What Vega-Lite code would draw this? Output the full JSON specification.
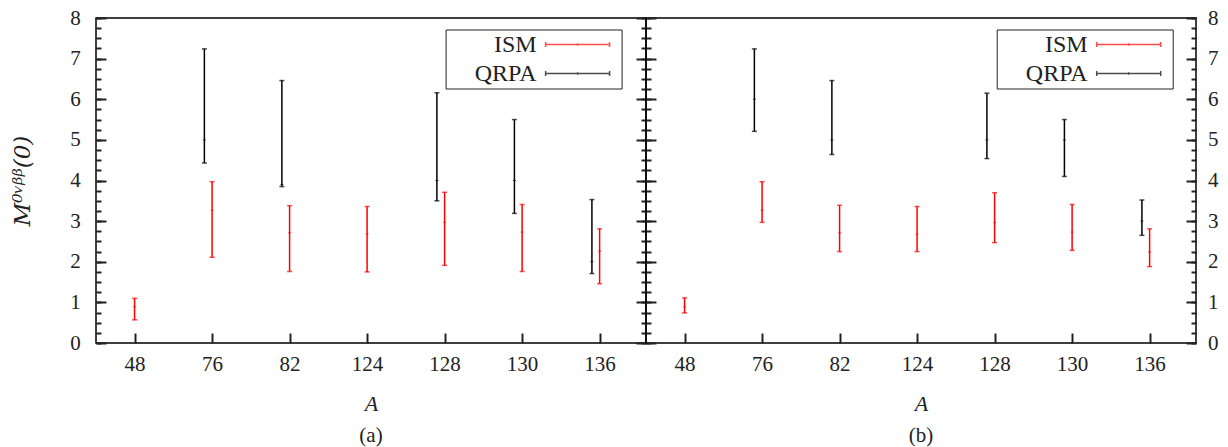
{
  "$schema": "https://vega.github.io/schema/vega-lite/v6.json",
  "background": "white",
  "padding": {"left": 11, "top": 6, "right": 0, "bottom": 0},
  "bounds": "flush",
  "datasets": {
    "a": [
      {"A": "48", "model": "ISM", "val": 0.89, "lo": 0.57, "hi": 1.10},
      {"A": "76", "model": "ISM", "val": 3.27, "lo": 2.11, "hi": 3.97},
      {"A": "82", "model": "ISM", "val": 2.71, "lo": 1.76, "hi": 3.38},
      {"A": "124", "model": "ISM", "val": 2.69, "lo": 1.75, "hi": 3.36},
      {"A": "128", "model": "ISM", "val": 2.97, "lo": 1.91, "hi": 3.71},
      {"A": "130", "model": "ISM", "val": 2.73, "lo": 1.76, "hi": 3.41},
      {"A": "136", "model": "ISM", "val": 2.26, "lo": 1.46, "hi": 2.81},
      {"A": "76", "model": "QRPA", "val": 5.0, "lo": 4.43, "hi": 7.24},
      {"A": "82", "model": "QRPA", "val": 3.9, "lo": 3.85, "hi": 6.46},
      {"A": "128", "model": "QRPA", "val": 4.0, "lo": 3.50, "hi": 6.16},
      {"A": "130", "model": "QRPA", "val": 4.0, "lo": 3.19, "hi": 5.50},
      {"A": "136", "model": "QRPA", "val": 2.0, "lo": 1.71, "hi": 3.53}
    ],
    "b": [
      {"A": "48", "model": "ISM", "val": 0.89, "lo": 0.74, "hi": 1.11},
      {"A": "76", "model": "ISM", "val": 3.27, "lo": 2.97, "hi": 3.97},
      {"A": "82", "model": "ISM", "val": 2.71, "lo": 2.25, "hi": 3.39},
      {"A": "124", "model": "ISM", "val": 2.68, "lo": 2.25, "hi": 3.36},
      {"A": "128", "model": "ISM", "val": 2.96, "lo": 2.47, "hi": 3.70},
      {"A": "130", "model": "ISM", "val": 2.73, "lo": 2.28, "hi": 3.41},
      {"A": "136", "model": "ISM", "val": 2.24, "lo": 1.88, "hi": 2.81},
      {"A": "76", "model": "QRPA", "val": 6.0, "lo": 5.21, "hi": 7.24},
      {"A": "82", "model": "QRPA", "val": 5.0, "lo": 4.64, "hi": 6.46},
      {"A": "128", "model": "QRPA", "val": 5.0, "lo": 4.54, "hi": 6.15},
      {"A": "130", "model": "QRPA", "val": 5.0, "lo": 4.10, "hi": 5.50},
      {"A": "136", "model": "QRPA", "val": 3.0, "lo": 2.65, "hi": 3.52}
    ]
  },
  "hconcat": [
    {
      "width": 550,
      "height": 325,
      "data": {"name": "a"},
      "title": {"text": "(a)", "orient": "bottom", "anchor": "middle", "fontSize": 21, "font": "Liberation Serif", "fontWeight": "normal", "color": "#222", "offset": 11},
      "encoding": {
        "x": {"field": "A", "type": "ordinal", "scale": {"type": "point", "domain": ["48", "76", "82", "124", "128", "130", "136"], "padding": 0.548, "align": 0.454},
          "axis": {"title": "A", "titleFontStyle": "italic", "titleFontSize": 22, "titlePadding": 19, "offset": -10, "tickSize": 10, "tickColor": "#222", "tickWidth": 2, "labelPadding": 10, "labelAngle": 0}},
        "color": {"field": "model", "type": "nominal", "scale": {"domain": ["ISM", "QRPA"], "range": ["#ff0000", "#000000"]},
          "legend": {"title": null, "orient": "none", "legendX": 349.6, "legendY": 11.5, "symbolType": "M0,0H12.8M0,-0.5V0.5M12.8,-0.5V0.5M6.4,-0.25V0.25M13.93,0", "symbolSize": 100, "symbolStrokeWidth": 1.5, "symbolOffset": 85, "labelOffset": -21, "labelAlign": "right", "labelFontSize": 24, "labelFont": "Liberation Serif", "labelColor": "#222", "strokeColor": "#222", "fillColor": "white", "padding": 3, "rowPadding": 5}}
      },
      "layer": [
        {
          "mark": {"type": "rule", "strokeWidth": 1.5, "xOffset": {"expr": "datum.model === 'QRPA' ? -7.7 : 0"}},
          "encoding": {
            "y": {"field": "lo", "type": "quantitative", "scale": {"domain": [0, 8], "nice": false},
              "axis": {"orient": "left", "values": [0, 1, 2, 3, 4, 5, 6, 7, 8], "format": "d", "offset": -10, "tickSize": 10, "tickColor": "#222", "tickWidth": 2,
                "labelPadding": 15.7, "title": "M⁰ᵛᵝᵝ(0)", "titleFont": "DejaVu Serif", "titleFontSize": 23, "titleFontStyle": "italic", "titlePadding": 35}},
            "y2": {"field": "hi"}
          }
        },
        {
          "mark": {"type": "tick", "thickness": 1.5, "size": 5, "xOffset": {"expr": "datum.model === 'QRPA' ? -7.7 : 0"}},
          "encoding": {
            "y": {"field": "lo", "type": "quantitative", "scale": {"domain": [0, 8], "nice": false},
              "axis": {"orient": "right", "values": [0, 1, 2, 3, 4, 5, 6, 7, 8], "labels": false, "offset": -10, "tickSize": 10, "tickColor": "#222", "tickWidth": 2, "title": null}}
          }
        },
        {
          "mark": {"type": "tick", "thickness": 1.5, "size": 5, "xOffset": {"expr": "datum.model === 'QRPA' ? -7.7 : 0"}},
          "encoding": {
            "y": {"field": "hi", "type": "quantitative", "scale": {"domain": [0, 8], "nice": false},
              "axis": {"orient": "left", "values": [0,0.25,0.5,0.75,1,1.25,1.5,1.75,2,2.25,2.5,2.75,3,3.25,3.5,3.75,4,4.25,4.5,4.75,5,5.25,5.5,5.75,6,6.25,6.5,6.75,7,7.25,7.5,7.75,8], "labels": false, "offset": -5, "tickSize": 5, "tickColor": "#222", "tickWidth": 2, "title": null}}
          }
        },
        {
          "mark": {"type": "tick", "thickness": 1, "size": 3, "xOffset": {"expr": "datum.model === 'QRPA' ? -7.7 : 0"}},
          "encoding": {
            "y": {"field": "val", "type": "quantitative", "scale": {"domain": [0, 8], "nice": false},
              "axis": {"orient": "right", "values": [0,0.25,0.5,0.75,1,1.25,1.5,1.75,2,2.25,2.5,2.75,3,3.25,3.5,3.75,4,4.25,4.5,4.75,5,5.25,5.5,5.75,6,6.25,6.5,6.75,7,7.25,7.5,7.75,8], "labels": false, "offset": -5, "tickSize": 5, "tickColor": "#222", "tickWidth": 2, "title": null}}
          }
        }
      ],
      "resolve": {"scale": {"y": "independent"}, "axis": {"y": "independent"}}
    },
    {
      "width": 550,
      "height": 325,
      "data": {"name": "b"},
      "title": {"text": "(b)", "orient": "bottom", "anchor": "middle", "fontSize": 21, "font": "Liberation Serif", "fontWeight": "normal", "color": "#222", "offset": 11},
      "encoding": {
        "x": {"field": "A", "type": "ordinal", "scale": {"type": "point", "domain": ["48", "76", "82", "124", "128", "130", "136"], "padding": 0.548, "align": 0.454},
          "axis": {"title": "A", "titleFontStyle": "italic", "titleFontSize": 22, "titlePadding": 19, "offset": -10, "tickSize": 10, "tickColor": "#222", "tickWidth": 2, "labelPadding": 10, "labelAngle": 0}},
        "color": {"field": "model", "type": "nominal", "scale": {"domain": ["ISM", "QRPA"], "range": ["#ff0000", "#000000"]},
          "legend": {"title": null, "orient": "none", "legendX": 350.7, "legendY": 11.5, "symbolType": "M0,0H12.8M0,-0.5V0.5M12.8,-0.5V0.5M6.4,-0.25V0.25M13.93,0", "symbolSize": 100, "symbolStrokeWidth": 1.5, "symbolOffset": 85, "labelOffset": -21, "labelAlign": "right", "labelFontSize": 24, "labelFont": "Liberation Serif", "labelColor": "#222", "strokeColor": "#222", "fillColor": "white", "padding": 3, "rowPadding": 5}}
      },
      "layer": [
        {
          "mark": {"type": "rule", "strokeWidth": 1.5, "xOffset": {"expr": "datum.model === 'QRPA' ? -7.7 : 0"}},
          "encoding": {
            "y": {"field": "lo", "type": "quantitative", "scale": {"domain": [0, 8], "nice": false},
              "axis": {"orient": "left", "values": [0, 1, 2, 3, 4, 5, 6, 7, 8], "labels": false, "offset": -10, "tickSize": 10, "tickColor": "#222", "tickWidth": 2, "title": null}},
            "y2": {"field": "hi"}
          }
        },
        {
          "mark": {"type": "tick", "thickness": 1.5, "size": 5, "xOffset": {"expr": "datum.model === 'QRPA' ? -7.7 : 0"}},
          "encoding": {
            "y": {"field": "lo", "type": "quantitative", "scale": {"domain": [0, 8], "nice": false},
              "axis": {"orient": "right", "values": [0, 1, 2, 3, 4, 5, 6, 7, 8], "format": "d", "offset": -10, "tickSize": 10, "tickColor": "#222", "tickWidth": 2, "labelPadding": 11.5, "title": null}}
          }
        },
        {
          "mark": {"type": "tick", "thickness": 1.5, "size": 5, "xOffset": {"expr": "datum.model === 'QRPA' ? -7.7 : 0"}},
          "encoding": {
            "y": {"field": "hi", "type": "quantitative", "scale": {"domain": [0, 8], "nice": false},
              "axis": {"orient": "left", "values": [0,0.25,0.5,0.75,1,1.25,1.5,1.75,2,2.25,2.5,2.75,3,3.25,3.5,3.75,4,4.25,4.5,4.75,5,5.25,5.5,5.75,6,6.25,6.5,6.75,7,7.25,7.5,7.75,8], "labels": false, "offset": -5, "tickSize": 5, "tickColor": "#222", "tickWidth": 2, "title": null}}
          }
        },
        {
          "mark": {"type": "tick", "thickness": 1, "size": 3, "xOffset": {"expr": "datum.model === 'QRPA' ? -7.7 : 0"}},
          "encoding": {
            "y": {"field": "val", "type": "quantitative", "scale": {"domain": [0, 8], "nice": false},
              "axis": {"orient": "right", "values": [0,0.25,0.5,0.75,1,1.25,1.5,1.75,2,2.25,2.5,2.75,3,3.25,3.5,3.75,4,4.25,4.5,4.75,5,5.25,5.5,5.75,6,6.25,6.5,6.75,7,7.25,7.5,7.75,8], "labels": false, "offset": -5, "tickSize": 5, "tickColor": "#222", "tickWidth": 2, "title": null}}
          }
        }
      ],
      "resolve": {"scale": {"y": "independent"}, "axis": {"y": "independent"}}
    }
  ],
  "spacing": 0,
  "resolve": {"legend": {"color": "independent"}},
  "config": {
    "view": {"stroke": "black", "strokeWidth": 1.5},
    "axis": {"domain": false, "grid": false, "ticks": true, "tickOpacity": 1, "zindex": 2, "labelFont": "Liberation Serif", "labelFontSize": 21, "labelColor": "#222", "titleFont": "Liberation Serif", "titleFontWeight": "normal", "titleColor": "#222", "labelFlush": false, "labelOverlap": false}
  }
}
